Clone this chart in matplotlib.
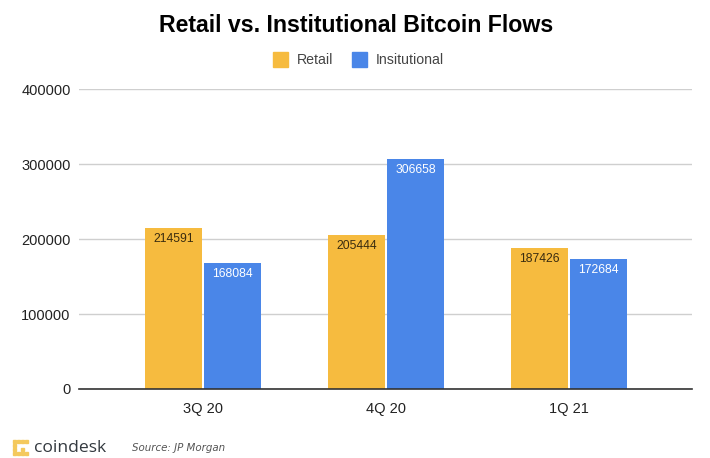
import matplotlib
matplotlib.use('Agg')
import numpy as np
import matplotlib.pyplot as plt
from matplotlib.patches import Rectangle

plt.rcParams['font.family'] = ['Liberation Sans', 'DejaVu Sans']

quarters = ['3Q 20', '4Q 20', '1Q 21']
retail = [214591, 205444, 187426]
institutional = [168084, 306658, 172684]
yticks = [0, 100000, 200000, 300000, 400000]

retail_col = '#f6bb3f'
inst_col = '#4a86e8'

W, H = 710, 458
fig = plt.figure(figsize=(W/100, H/100), dpi=100)
ax = fig.add_axes([79/W, 1-389/H, 613/W, 300/H])

x = np.arange(len(quarters))
bw = 57/183
off = 29.5/183
ax.bar(x-off, retail, bw, color=retail_col, label='Retail', zorder=3)
ax.bar(x+off, institutional, bw, color=inst_col, label='Insitutional', zorder=3)

for i in x:
    ax.annotate(str(retail[i]), (i-off, retail[i]), xytext=(0, -3.5), textcoords='offset points',
                ha='center', va='top', fontsize=8.7, color='#3a2c10', zorder=4)
    ax.annotate(str(institutional[i]), (i+off, institutional[i]), xytext=(0, -3.5), textcoords='offset points',
                ha='center', va='top', fontsize=8.7, color='white', zorder=4)

ax.set_xlim(-124/183, 2+123/183)
ax.set_ylim(0, 400000)
ax.set_xticks(x)
ax.set_xticklabels(quarters, fontsize=10.5, color='#222222')
ax.set_yticks(yticks)
ax.set_yticklabels([str(v) for v in yticks], fontsize=10.5, color='#222222')
ax.tick_params(length=0, pad=6)
ax.tick_params(axis='x', pad=9)
ax.grid(axis='y', color='#cfcfcf', lw=1, zorder=0)
for s in ['top', 'right', 'left']:
    ax.spines[s].set_visible(False)
ax.spines['bottom'].set_color('#333333')
ax.spines['bottom'].set_linewidth(1.2)
ax.spines['bottom'].set_zorder(5)

fig.text(356/W, 1-26/H, 'Retail vs. Institutional Bitcoin Flows', ha='center', va='center',
         fontsize=16.7, fontweight='bold', color='black')

# legend by hand to get the spacing right
fig.add_artist(Rectangle((273/W, 1-67/H), 15/W, 15/H, transform=fig.transFigure, color=retail_col))
fig.text(297/W, 1-59.5/H, 'Retail', va='center', fontsize=10.2, color='#444444')
fig.add_artist(Rectangle((352/W, 1-67/H), 15/W, 15/H, transform=fig.transFigure, color=inst_col))
fig.text(376/W, 1-59.5/H, 'Insitutional', va='center', fontsize=10.2, color='#444444')

# coindesk mark
for px, py in [(13, 440), (13, 444), (13, 448), (13, 452), (17, 440), (21, 440), (25, 440), (17, 452),
               (21, 452), (21, 448), (25, 452)]:
    fig.add_artist(Rectangle((px/W, 1-(py+3)/H), 3/W, 3/H, transform=fig.transFigure, color='#f4c95d'))
fig.text(34/W, 1-447.5/H, 'coindesk', va='center', fontsize=12.6, color='#33393f',
         family=['Open Sans', 'DejaVu Sans'])
fig.text(132/W, 1-448/H, 'Source: JP Morgan', va='center', fontsize=7.4, style='italic', color='#555555',
         family=['DejaVu Sans'])

fig.savefig('out.png', dpi=100)
